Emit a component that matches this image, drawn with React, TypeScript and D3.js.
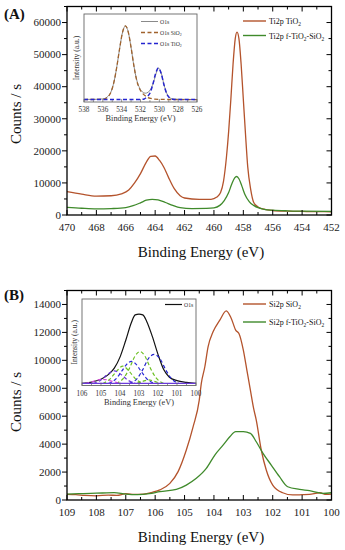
import React from "react";
import * as d3 from "d3";

type Pt = [number, number];

// ---------- Panel A data (Ti2p) ----------
const A_X_TICKS = [470, 468, 466, 464, 462, 460, 458, 456, 454, 452];
const A_Y_TICKS = [0, 10000, 20000, 30000, 40000, 50000, 60000];
const A_TIO2: Pt[] = [
  [470, 7300], [469, 6500], [468, 5900], [467, 6000], [466.3, 6600], [465.8, 7800],
  [465.4, 10000], [465, 12900], [464.6, 16500], [464.3, 18300], [464.0, 18400],
  [463.7, 17000], [463.4, 14800], [463.1, 11800], [462.7, 8200], [462.3, 6000],
  [462, 5300], [461, 4900], [460.2, 4900], [459.8, 5600], [459.55, 7000],
  [459.35, 10500], [459.15, 18000], [459.0, 26000], [458.85, 36000], [458.7, 47000],
  [458.55, 55000], [458.43, 57000], [458.3, 55000], [458.15, 47000], [458.0, 36000],
  [457.85, 25000], [457.7, 15000], [457.5, 8000], [457.3, 4000], [457.0, 2500],
  [456.6, 1800], [456.0, 1400], [455, 1200], [454, 1100], [453, 1050], [452, 1000],
];
const A_FTIO2: Pt[] = [
  [470, 2400], [469, 2100], [468, 1900], [467, 2000], [466, 2300], [465.5, 2900],
  [465, 3800], [464.6, 4600], [464.2, 4900], [463.8, 4700], [463.3, 3900],
  [462.8, 3000], [462.3, 2300], [461.5, 2000], [460.5, 2050], [460, 2200],
  [459.6, 3000], [459.3, 4500], [459.0, 7000], [458.8, 9500], [458.6, 11500],
  [458.45, 12000], [458.3, 11300], [458.1, 9000], [457.9, 6500], [457.6, 4200],
  [457.3, 3000], [457.0, 2300], [456.5, 1700], [456, 1500], [455, 1300],
  [454, 1200], [452, 1100],
];
const A_LEGEND = ["Ti2p TiO_2", "Ti2p f-TiO_2-SiO_2"];

// Inset A (O1s)
const IA_X_TICKS = [538, 536, 534, 532, 530, 528, 526];
const IA_O1S: Pt[] = [
  [538, 0.03], [537, 0.03], [536, 0.035], [535.7, 0.045], [535.4, 0.07], [535.1, 0.125],
  [534.8, 0.236], [534.5, 0.411], [534.2, 0.619], [533.9, 0.795], [533.6, 0.864],
  [533.3, 0.795], [533.0, 0.619], [532.7, 0.411], [532.4, 0.25], [532.1, 0.16],
  [531.8, 0.115], [531.5, 0.1], [531.2, 0.11], [530.9, 0.15], [530.6, 0.23],
  [530.3, 0.34], [530.1, 0.386], [529.8, 0.33], [529.5, 0.195], [529.2, 0.095],
  [528.9, 0.05], [528.6, 0.035], [527.5, 0.03], [526, 0.028],
];
const IA_SIO2: Pt[] = [
  [538, 0.028], [536, 0.031], [535.7, 0.04], [535.4, 0.065], [535.1, 0.123],
  [534.8, 0.236], [534.5, 0.411], [534.2, 0.619], [533.9, 0.795], [533.6, 0.864],
  [533.3, 0.795], [533.0, 0.619], [532.7, 0.411], [532.4, 0.245], [532.1, 0.15],
  [531.8, 0.1], [531.5, 0.07], [531.2, 0.05], [530.9, 0.04], [530.5, 0.033],
  [529.5, 0.029], [526, 0.026],
];
const IA_TIO2: Pt[] = [
  [538, 0.028], [532, 0.029], [531.6, 0.035], [531.3, 0.06], [531.0, 0.1],
  [530.7, 0.195], [530.4, 0.323], [530.1, 0.386], [529.8, 0.323], [529.5, 0.192],
  [529.2, 0.09], [528.9, 0.046], [528.6, 0.032], [528, 0.028], [526, 0.028],
];
const IA_LEGEND = ["O1s", "O1s SiO_2", "O1s TiO_2"];

// ---------- Panel B data (Si2p) ----------
const B_X_TICKS = [109, 108, 107, 106, 105, 104, 103, 102, 101, 100];
const B_Y_TICKS = [0, 2000, 4000, 6000, 8000, 10000, 12000, 14000];
const B_SIO2: Pt[] = [
  [109, 400], [108.7, 380], [108.4, 330], [108, 300], [107.6, 350], [107.3, 330],
  [107, 450], [106.7, 400], [106.4, 420], [106.1, 550], [105.84, 720], [105.5, 1190],
  [105.22, 2030], [104.94, 3580], [104.71, 5240], [104.5, 7150], [104.43, 8350],
  [104.31, 9540], [104.2, 10970], [104.03, 12040], [103.8, 12880], [103.58, 13540],
  [103.41, 13000], [103.26, 12160], [103.15, 11920], [103.0, 10730], [102.88, 9300],
  [102.76, 7870], [102.65, 6560], [102.56, 5720], [102.39, 3580], [102.22, 2150],
  [102.0, 1070], [101.66, 520], [101.32, 360], [101.0, 380], [100.75, 400],
  [100.4, 520], [100.18, 400], [100, 420],
];
const B_FTIO2: Pt[] = [
  [109, 420], [108.6, 450], [108.2, 480], [107.8, 500], [107.4, 530], [107, 420],
  [106.6, 380], [106.2, 450], [105.84, 600], [105.28, 760], [104.94, 1070],
  [104.6, 1550], [104.26, 2260], [103.97, 3220], [103.69, 3930], [103.46, 4530],
  [103.26, 4890], [103.0, 4890], [102.76, 4770], [102.56, 4170], [102.33, 3340],
  [102.05, 2500], [101.77, 1670], [101.49, 950], [101.09, 760], [100.75, 670],
  [100.3, 480], [100, 520],
];
const B_LEGEND = ["Si2p SiO_2", "Si2p f-TiO_2-SiO_2"];

// Inset B (O1s deconvolution)
const IB_X_TICKS = [106, 105, 104, 103, 102, 101, 100];
const IB_O1S: Pt[] = [
  [106, 0], [105.5, 0.02], [105, 0.06], [104.6, 0.13], [104.3, 0.22], [104.0, 0.38],
  [103.7, 0.62], [103.4, 0.88], [103.2, 0.99], [103.0, 1.0], [102.8, 0.99],
  [102.6, 0.9], [102.3, 0.68], [102.0, 0.42], [101.7, 0.2], [101.4, 0.09],
  [101.0, 0.04], [100.5, 0.015], [100, 0],
];
const IB_C1: Pt[] = [[104.2, 0], [103.8, 0.08], [103.5, 0.22], [103.2, 0.4], [102.95, 0.46], [102.7, 0.4], [102.4, 0.22], [102.1, 0.08], [101.7, 0]];
const IB_C2: Pt[] = [[103.5, 0], [103.1, 0.07], [102.8, 0.2], [102.5, 0.36], [102.2, 0.42], [101.9, 0.36], [101.6, 0.2], [101.3, 0.07], [100.9, 0]];
const IB_C3: Pt[] = [[104.6, 0], [104.2, 0.07], [103.9, 0.18], [103.6, 0.29], [103.4, 0.32], [103.2, 0.29], [102.9, 0.18], [102.6, 0.07], [102.2, 0]];
const IB_C4: Pt[] = [[104.9, 0], [104.5, 0.07], [104.2, 0.17], [103.85, 0.25], [103.5, 0.17], [103.2, 0.07], [102.8, 0]];
const IB_C5: Pt[] = [[105.4, 0], [105.0, 0.05], [104.7, 0.12], [104.3, 0.18], [103.9, 0.12], [103.6, 0.05], [103.2, 0]];
const IB_C6: Pt[] = [[105.8, 0], [105.4, 0.03], [104.9, 0.06], [104.4, 0.03], [104.0, 0]];
const IB_C7: Pt[] = [[103.1, 0], [102.8, 0.03], [102.5, 0.05], [102.2, 0.03], [101.9, 0]];
const IB_BASE: Pt[] = [[106, 0], [100, 0]];
const IB_LEGEND = ["O1s"];

// ---------- styling ----------
const FONT = "'Liberation Serif', 'DejaVu Serif', serif";
const BROWN = "#b4532c";
const GREEN = "#3f8a2b";

function Rich({ text, x, y, size, anchor = "start", transform, fill = "#111", weight }: any) {
  const parts = text.split(/(_.)/).filter((p: string) => p.length);
  const out: any[] = [];
  let shifted = false;
  parts.forEach((p: string, i: number) => {
    if (p.startsWith("_")) {
      out.push(<tspan key={i} dy={size * 0.28} fontSize={size * 0.68}>{p.slice(1)}</tspan>);
      shifted = true;
    } else {
      out.push(<tspan key={i} dy={shifted ? -size * 0.28 : 0}>{p}</tspan>);
      shifted = false;
    }
  });
  return (
    <text x={x} y={y} fontSize={size} textAnchor={anchor} fontFamily={FONT} fill={fill} transform={transform} fontWeight={weight}>
      {out}
    </text>
  );
}

function MainPanel({ top, bottom, xDomain, yDomain, xTicks, xMinorStep, yTicks, yMinorStep, series, legend, legendY, label, labelY, titleY, yTitleCenter }: any) {
  const left = 67, right = 331.5;
  const x = d3.scaleLinear().domain(xDomain).range([left, right]);
  const y = d3.scaleLinear().domain(yDomain).range([bottom, top]);
  const line = d3.line<Pt>().x((d) => x(d[0])).y((d) => y(d[1])).curve(d3.curveMonotoneX);
  const xMinor = d3.range(xDomain[1], xDomain[0] + 1e-6, xMinorStep);
  const yMinor = d3.range(yDomain[0], yDomain[1] + 1e-6, yMinorStep);
  return (
    <g>
      {series.map((s: any, i: number) => (
        <path key={i} d={line(s.data) || ""} fill="none" stroke={s.color} strokeWidth={1.3} />
      ))}
      <rect x={left} y={top} width={right - left} height={bottom - top} fill="none" stroke="#000" strokeWidth={1.3} />
      {xMinor.map((v: number, i: number) => {
        const major = xTicks.some((t: number) => Math.abs(t - v) < 1e-6);
        const len = major ? 5 : 3;
        return (
          <g key={"xm" + i}>
            <line x1={x(v)} x2={x(v)} y1={bottom} y2={bottom - len} stroke="#000" strokeWidth={1} />
            <line x1={x(v)} x2={x(v)} y1={top} y2={top + len} stroke="#000" strokeWidth={1} />
          </g>
        );
      })}
      {yMinor.map((v: number, i: number) => {
        const major = yTicks.some((t: number) => Math.abs(t - v) < 1e-6);
        const len = major ? 5 : 3;
        return (
          <g key={"ym" + i}>
            <line x1={left} x2={left - len} y1={y(v)} y2={y(v)} stroke="#000" strokeWidth={1} />
            <line x1={right} x2={right - len} y1={y(v)} y2={y(v)} stroke="#000" strokeWidth={1} />
          </g>
        );
      })}
      {xTicks.map((t: number) => (
        <text key={"xt" + t} x={x(t)} y={bottom + 16} fontSize={11} textAnchor="middle" fontFamily={FONT} fill="#222">{t}</text>
      ))}
      {yTicks.map((t: number) => (
        <text key={"yt" + t} x={61} y={y(t) + 3.8} fontSize={11} textAnchor="end" fontFamily={FONT} fill="#222">{t}</text>
      ))}
      <text x={201} y={titleY} fontSize={15} textAnchor="middle" fontFamily={FONT} fill="#111">Binding Energy (eV)</text>
      <text x={0} y={0} transform={`translate(21,${yTitleCenter}) rotate(-90)`} fontSize={15} textAnchor="middle" fontFamily={FONT} fill="#111">Counts / s</text>
      <text x={4} y={labelY} fontSize={15} fontWeight="bold" fontFamily={FONT} fill="#111">{label}</text>
      {legend.map((l: string, i: number) => (
        <g key={"lg" + i}>
          <line x1={243} x2={266} y1={legendY[i]} y2={legendY[i]} stroke={series[i].color} strokeWidth={1.4} />
          <Rich text={l} x={269} y={legendY[i] + 3} size={8} />
        </g>
      ))}
    </g>
  );
}

function Inset({ left, right, top, bottom, xDomain, yDomain, xTicks, xMinorStep, curves, legend, legendX, legendY }: any) {
  const x = d3.scaleLinear().domain(xDomain).range([left, right]);
  const y = d3.scaleLinear().domain(yDomain).range([bottom, top]);
  const line = d3.line<Pt>().x((d) => x(d[0])).y((d) => y(d[1])).curve(d3.curveMonotoneX);
  const minor = d3.range(xDomain[1], xDomain[0] + 1e-6, xMinorStep);
  return (
    <g>
      <rect x={left} y={top} width={right - left} height={bottom - top} fill="#fff" stroke="none" />
      {curves.map((c: any, i: number) => (
        <path key={i} d={line(c.data) || ""} fill="none" stroke={c.color} strokeWidth={c.width || 1} strokeDasharray={c.dash || undefined} />
      ))}
      <rect x={left} y={top} width={right - left} height={bottom - top} fill="none" stroke="#666" strokeWidth={0.9} />
      {minor.map((v: number, i: number) => {
        const major = xTicks.some((t: number) => Math.abs(t - v) < 1e-6);
        return <line key={i} x1={x(v)} x2={x(v)} y1={bottom} y2={bottom - (major ? 3 : 1.8)} stroke="#666" strokeWidth={0.7} />;
      })}
      {xTicks.map((t: number) => (
        <text key={t} x={x(t)} y={bottom + 10} fontSize={7.2} textAnchor="middle" fontFamily={FONT} fill="#333">{t}</text>
      ))}
      <text x={(left + right) / 2} y={bottom + 19} fontSize={8.3} textAnchor="middle" fontFamily={FONT} fill="#333">Binding Energy (eV)</text>
      <text x={0} y={0} transform={`translate(${left - 5},${(top + bottom) / 2}) rotate(-90)`} fontSize={7.6} textAnchor="middle" fontFamily={FONT} fill="#333">Intensity (a.u.)</text>
      {legend.map((l: string, i: number) => (
        <g key={"l" + i}>
          <line x1={legendX} x2={legendX + 17} y1={legendY[i]} y2={legendY[i]} stroke={curves[i].color} strokeWidth={curves[i].width || 1} strokeDasharray={curves[i].dash || undefined} />
          <Rich text={l} x={legendX + 19} y={legendY[i] + 2} size={5.8} fill="#333" />
        </g>
      ))}
    </g>
  );
}

export default function App() {
  return (
    <svg width={345} height={550} style={{ position: "absolute", left: 0, top: 0, background: "#fff" }}>
      <rect width={345} height={550} fill="#fff" />
      <MainPanel
        top={6.5} bottom={215} xDomain={[470, 452]} yDomain={[0, 65000]}
        xTicks={A_X_TICKS} xMinorStep={1} yTicks={A_Y_TICKS} yMinorStep={5000}
        series={[{ data: A_TIO2, color: BROWN }, { data: A_FTIO2, color: GREEN }]}
        legend={A_LEGEND} legendY={[21, 35.5]} label="(A)" labelY={19} titleY={257} yTitleCenter={114}
      />
      <Inset
        left={84} right={197} top={14} bottom={102} xDomain={[538, 526]} yDomain={[0, 1]}
        xTicks={IA_X_TICKS} xMinorStep={1}
        curves={[
          { data: IA_O1S, color: "#8a8a8a", width: 1 },
          { data: IA_SIO2, color: "#a0622c", width: 1.3, dash: "4,2.5" },
          { data: IA_TIO2, color: "#2424d0", width: 1.5, dash: "4,2.5" },
        ]}
        legend={IA_LEGEND} legendX={141} legendY={[21.5, 32.5, 43.5]}
      />
      <MainPanel
        top={290.5} bottom={500} xDomain={[109, 100]} yDomain={[0, 15000]}
        xTicks={B_X_TICKS} xMinorStep={0.5} yTicks={B_Y_TICKS} yMinorStep={1000}
        series={[{ data: B_SIO2, color: BROWN }, { data: B_FTIO2, color: GREEN }]}
        legend={B_LEGEND} legendY={[304, 322]} label="(B)" labelY={300} titleY={542} yTitleCenter={402}
      />
      <Inset
        left={82} right={196} top={299} bottom={385.5} xDomain={[106, 100]} yDomain={[-0.03, 1.22]}
        xTicks={IB_X_TICKS} xMinorStep={0.5}
        curves={[
          { data: IB_O1S, color: "#111", width: 1.2 },
          { data: IB_C1, color: "#6cc022", width: 1.2, dash: "3.5,2.5" },
          { data: IB_C2, color: "#2222cc", width: 1.2, dash: "3.5,2.5" },
          { data: IB_C3, color: "#2a2ad8", width: 1.2, dash: "3.5,2.5" },
          { data: IB_C4, color: "#6cc022", width: 1.2, dash: "3.5,2.5" },
          { data: IB_C5, color: "#6a3adb", width: 1.2, dash: "3.5,2.5" },
          { data: IB_C6, color: "#d24ad2", width: 1.2, dash: "3.5,2.5" },
          { data: IB_C7, color: "#6cc022", width: 1.2, dash: "3.5,2.5" },
          { data: IB_BASE, color: "#6a3adb", width: 1.2 },
        ]}
        legend={IB_LEGEND} legendX={165} legendY={[304.5]}
      />
    </svg>
  );
}
